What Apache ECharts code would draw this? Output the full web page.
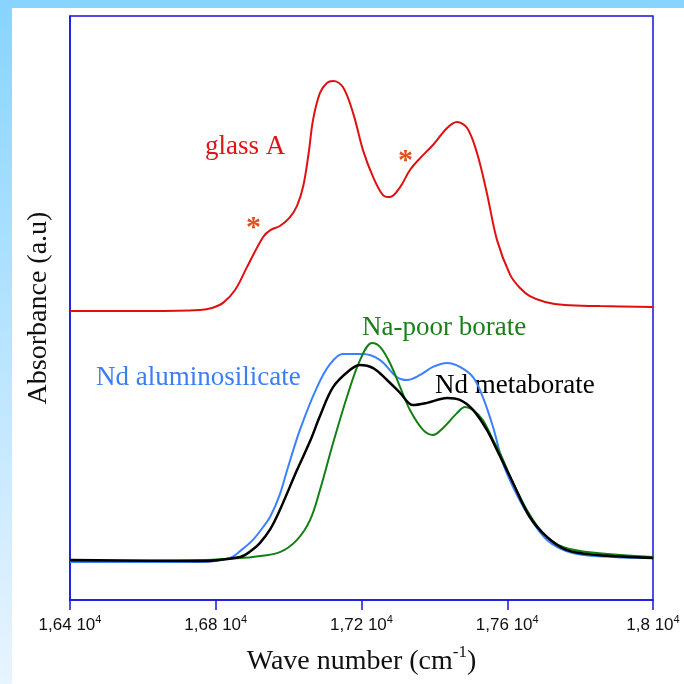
<!DOCTYPE html>
<html><head><meta charset="utf-8">
<script src="https://cdn.jsdelivr.net/npm/echarts@6/dist/echarts.min.js"></script>
<style>html,body{margin:0;padding:0;background:#fff}#c{width:684px;height:684px}</style>
</head><body><div id="c"></div>
<script>
// wave numbers (cm-1) and absorbance (a.u.)
const glassA_x = [16400,16620,16757,16790,16820,16853,16886,16930,16950,16976,17002,17023,17040,17055,17067,17086,17105,17122,17149,17177,17204,17232,17259,17278,17306,17333,17361,17396,17435,17462,17490,17517,17544,17572,17608,17635,17662,17704,17758,17855,18000];
const glassA_y = [1.188,1.188,1.192,1.200,1.221,1.274,1.369,1.492,1.520,1.537,1.570,1.620,1.700,1.837,1.973,2.084,2.125,2.133,2.108,2.001,1.849,1.738,1.664,1.656,1.697,1.767,1.816,1.870,1.940,1.964,1.940,1.837,1.673,1.479,1.336,1.282,1.249,1.225,1.212,1.208,1.204];

const naPoor_x = [16400,16757,16867,16902,16976,17023,17059,17086,17119,17160,17196,17229,17251,17278,17306,17333,17369,17396,17424,17462,17484,17506,17533,17561,17580,17616,17654,17698,17753,17846,18000];
const naPoor_y = [0.160,0.164,0.173,0.177,0.197,0.247,0.329,0.452,0.629,0.834,0.986,1.056,1.040,0.974,0.875,0.781,0.699,0.678,0.707,0.768,0.793,0.781,0.740,0.658,0.604,0.481,0.370,0.275,0.218,0.193,0.177];

const alumino_x = [16400,16757,16839,16870,16902,16930,16949,16975,16996,17031,17078,17114,17149,17204,17251,17297,17325,17361,17396,17435,17470,17506,17533,17561,17588,17616,17654,17709,17780,17890,18000];
const alumino_y = [0.156,0.156,0.173,0.205,0.247,0.300,0.341,0.430,0.534,0.699,0.875,0.970,1.011,1.011,0.986,0.916,0.904,0.925,0.958,0.974,0.958,0.916,0.834,0.711,0.563,0.464,0.358,0.247,0.193,0.177,0.173];

const meta_x = [16400,16757,16867,16895,16921,16950,16976,17023,17059,17086,17122,17168,17196,17232,17270,17306,17341,17380,17435,17470,17506,17544,17572,17616,17662,17709,17764,17846,18000];
const meta_y = [0.164,0.160,0.177,0.200,0.234,0.292,0.370,0.534,0.653,0.756,0.875,0.945,0.966,0.953,0.904,0.851,0.801,0.810,0.830,0.822,0.781,0.699,0.616,0.481,0.341,0.259,0.205,0.185,0.173];

const tickMantissa = {16400:'1,64',16800:'1,68',17200:'1,72',17600:'1,76',18000:'1,8'};

function pairs(xs, ys){ return xs.map((x,i)=>[x,ys[i]]); }

const serif = '"Liberation Serif","Times New Roman",serif';
const chart = echarts.init(document.getElementById('c'));
const lineS = (name, xs, ys, color, w) => ({
  type:'line', name, data:pairs(xs,ys), showSymbol:false, smooth:0.35,
  lineStyle:{color, width:w}, silent:true
});
chart.setOption({
  animation:false,
  backgroundColor:'#ffffff',
  grid:{left:70, right:31, top:16, bottom:84, show:true, borderColor:'#1414e0', borderWidth:1.5},
  xAxis:{type:'value', min:16400, max:18000, interval:400,
    axisLine:{show:true, lineStyle:{color:'#1414e0', width:1.5}},
    axisTick:{show:true, length:10, lineStyle:{color:'#1414e0', width:1.5}},
    splitLine:{show:false},
    axisLabel:{margin:14, formatter:v=>'{a|'+tickMantissa[v]+' 10}{s|4}',
      rich:{a:{fontFamily:'"Liberation Sans",Arial,sans-serif', fontSize:17, color:'#111', lineHeight:20, verticalAlign:'bottom'},
            s:{fontFamily:'"Liberation Sans",Arial,sans-serif', fontSize:11, color:'#111', lineHeight:20, verticalAlign:'top', padding:[0,0,6,0]}}},
    name:'{t|Wave number (cm}{u|-1}{t|)}', nameLocation:'middle', nameGap:44,
    nameTextStyle:{rich:{t:{fontFamily:serif, fontSize:28, color:'#111', lineHeight:32, verticalAlign:'bottom'},
      u:{fontFamily:serif, fontSize:17, color:'#111', lineHeight:32, verticalAlign:'top', padding:[0,0,12,0]}}}
  },
  yAxis:{type:'value', min:0, max:2.4,
    axisLine:{show:true, lineStyle:{color:'#1414e0', width:1.5}},
    axisTick:{show:false}, axisLabel:{show:false}, splitLine:{show:false},
    name:'Absorbance (a.u)', nameLocation:'middle', nameGap:17,
    nameTextStyle:{fontFamily:serif, fontSize:28, color:'#111'}
  },
  graphic:[
    {type:'rect', shape:{x:0,y:0,width:684,height:8}, style:{fill:'#87d4ff'}, z:-10},
    {type:'rect', shape:{x:0,y:0,width:12,height:684}, style:{fill:new echarts.graphic.LinearGradient(0,0,0,1,[{offset:0,color:'#87d4ff'},{offset:1,color:'#e8f4ff'}])}, z:-10},
    {type:'text', left:205, top:133, style:{text:'glass A', font:'27px '+serif, fill:'#e01414'}},
    {type:'text', left:246, top:213, style:{text:'*', font:'bold 30px '+serif, fill:'#e0501a'}},
    {type:'text', left:398, top:146, style:{text:'*', font:'bold 30px '+serif, fill:'#e0501a'}},
    {type:'text', left:96, top:364, style:{text:'Nd aluminosilicate', font:'27px '+serif, fill:'#3c7df5'}},
    {type:'text', left:362, top:314, style:{text:'Na-poor borate', font:'27px '+serif, fill:'#1b801b'}},
    {type:'text', left:435, top:372, style:{text:'Nd metaborate', font:'27px '+serif, fill:'#000'}}
  ],
  series:[
    lineS('glass A', glassA_x, glassA_y, '#e01010', 2),
    lineS('Nd aluminosilicate', alumino_x, alumino_y, '#3a80ff', 2),
    lineS('Na-poor borate', naPoor_x, naPoor_y, '#138013', 2),
    lineS('Nd metaborate', meta_x, meta_y, '#000000', 2.5)
  ]
});
</script></body></html>
